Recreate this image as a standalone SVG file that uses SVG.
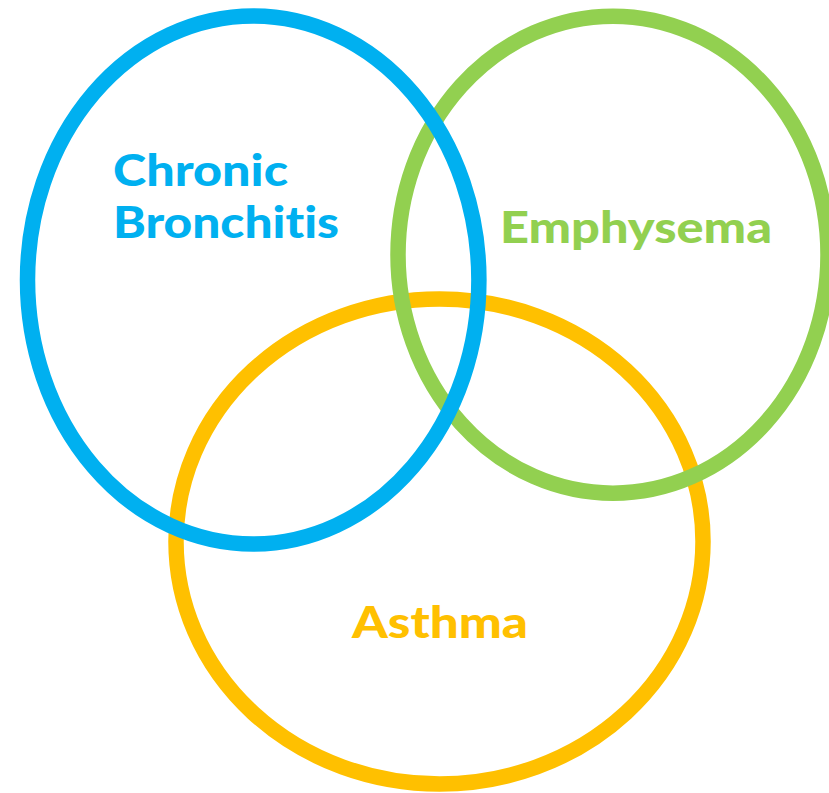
<svg xmlns="http://www.w3.org/2000/svg" width="829" height="793" viewBox="0 0 829 793">
<style>
.ring{fill:none;stroke-width:15.5}
.lbl{font-family:Lato,"Open Sans","Liberation Sans",sans-serif;font-weight:900;font-size:44px;font-variant-ligatures:none}
</style>
<rect width="829" height="793" fill="#ffffff"/>
<g id="asthma">
<ellipse class="ring" cx="439.5" cy="541.5" rx="263.5" ry="242.5" stroke="#FFC000"/>
<text class="lbl" x="352" y="638" fill="#FFC000" textLength="176" lengthAdjust="spacingAndGlyphs">Asthma</text>
</g>
<g id="emphysema">
<ellipse class="ring" cx="613" cy="254.7" rx="215" ry="238.5" stroke="#92D050"/>
<text class="lbl" x="500" y="243" fill="#92D050" textLength="272" lengthAdjust="spacingAndGlyphs">Emphysema</text>
</g>
<g id="chronic-bronchitis">
<ellipse class="ring" cx="253.2" cy="280" rx="225.7" ry="264" stroke="#00B0F0"/>
<text class="lbl" x="113" y="186" fill="#00B0F0" textLength="175" lengthAdjust="spacingAndGlyphs">Chronic</text>
<text class="lbl" x="113" y="238" fill="#00B0F0" textLength="226" lengthAdjust="spacingAndGlyphs">Bronchitis</text>
</g>
<g id="connectors"></g>
</svg>
